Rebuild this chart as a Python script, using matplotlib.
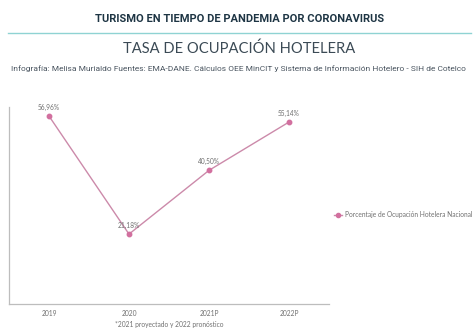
import matplotlib
matplotlib.use("Agg")
import matplotlib.pyplot as plt
from matplotlib.lines import Line2D

years = ["2019", "2020", "2021P", "2022P"]
occupancy = [56.96, 21.18, 40.50, 55.14]
value_labels = ["56,96%", "21,18%", "40,50%", "55,14%"]
series_name = "Porcentaje de Ocupación Hotelera Nacional"

W, H = 474, 331
fig = plt.figure(figsize=(W / 100, H / 100), dpi=100)
fig.patch.set_facecolor("white")

def fx(px):
    return px / W

def fy(py):
    return 1 - py / H

# Header
fig.text(fx(240), fy(19), "TURISMO EN TIEMPO DE PANDEMIA POR CORONAVIRUS",
         ha="center", va="center", fontsize=8.0, fontweight="bold",
         color="#1e3544", family="Roboto")
fig.add_artist(Line2D([fx(8), fx(471)], [fy(33), fy(33)], color="#8fd3d3", lw=1.0))
fig.text(fx(239), fy(49), "TASA DE OCUPACIÓN HOTELERA", ha="center", va="center",
         fontsize=10.6, color="#3b4a55", family="Lato", fontweight="normal")
fig.text(fx(238), fy(69),
         "Infografía: Melisa Murialdo Fuentes: EMA-DANE. Cálculos OEE MinCIT y Sistema de Información Hotelero - SIH de Cotelco",
         ha="center", va="center", fontsize=6.0, color="#4a5560", family="Roboto")

# Chart area
ax = fig.add_axes([fx(9), fy(304), fx(329) - fx(9), (304 - 107) / H])
x = list(range(len(years)))
ax.plot(x, occupancy, color="#cc8aaa", lw=1.0, marker="o", ms=3.2,
        mfc="#d2709f", mec="#d2709f", zorder=3)
for xi, v, lab in zip(x, occupancy, value_labels):
    ax.annotate(lab, (xi, v), xytext=(0, 3.5), textcoords="offset points",
                ha="center", va="bottom", fontsize=4.8, color="#707070", family="Lato")

ax.set_xlim(-0.5, 3.5)
ax.set_ylim(0, 59.7)
ax.set_xticks(x)
ax.set_xticklabels(years, fontsize=4.8, color="#707070", family="Lato")
ax.set_yticks([])
ax.tick_params(axis="x", length=0, pad=4.5)
for s in ("top", "right"):
    ax.spines[s].set_visible(False)
ax.spines["left"].set_color("#bdbdbd")
ax.spines["bottom"].set_color("#bdbdbd")
ax.spines["left"].set_linewidth(0.9)
ax.spines["bottom"].set_linewidth(0.9)

# Footnote
fig.text(fx(169), fy(325), "*2021 proyectado y 2022 pronóstico", ha="center", va="center",
         fontsize=4.8, color="#707070", family="Lato")

# Legend
handle = Line2D([], [], color="#cc8aaa", lw=1.0, marker="o", ms=3.0,
                mfc="#d2709f", mec="#d2709f")
leg = fig.legend([handle], [series_name], loc="center left",
                 bbox_to_anchor=(fx(334), fy(215)), frameon=False,
                 prop={"family": "Lato", "size": 4.8}, handlelength=1.2,
                 handletextpad=0.4, borderaxespad=0, borderpad=0)
for t in leg.get_texts():
    t.set_color("#707070")

fig.savefig("out.png", dpi=100, facecolor="white")
